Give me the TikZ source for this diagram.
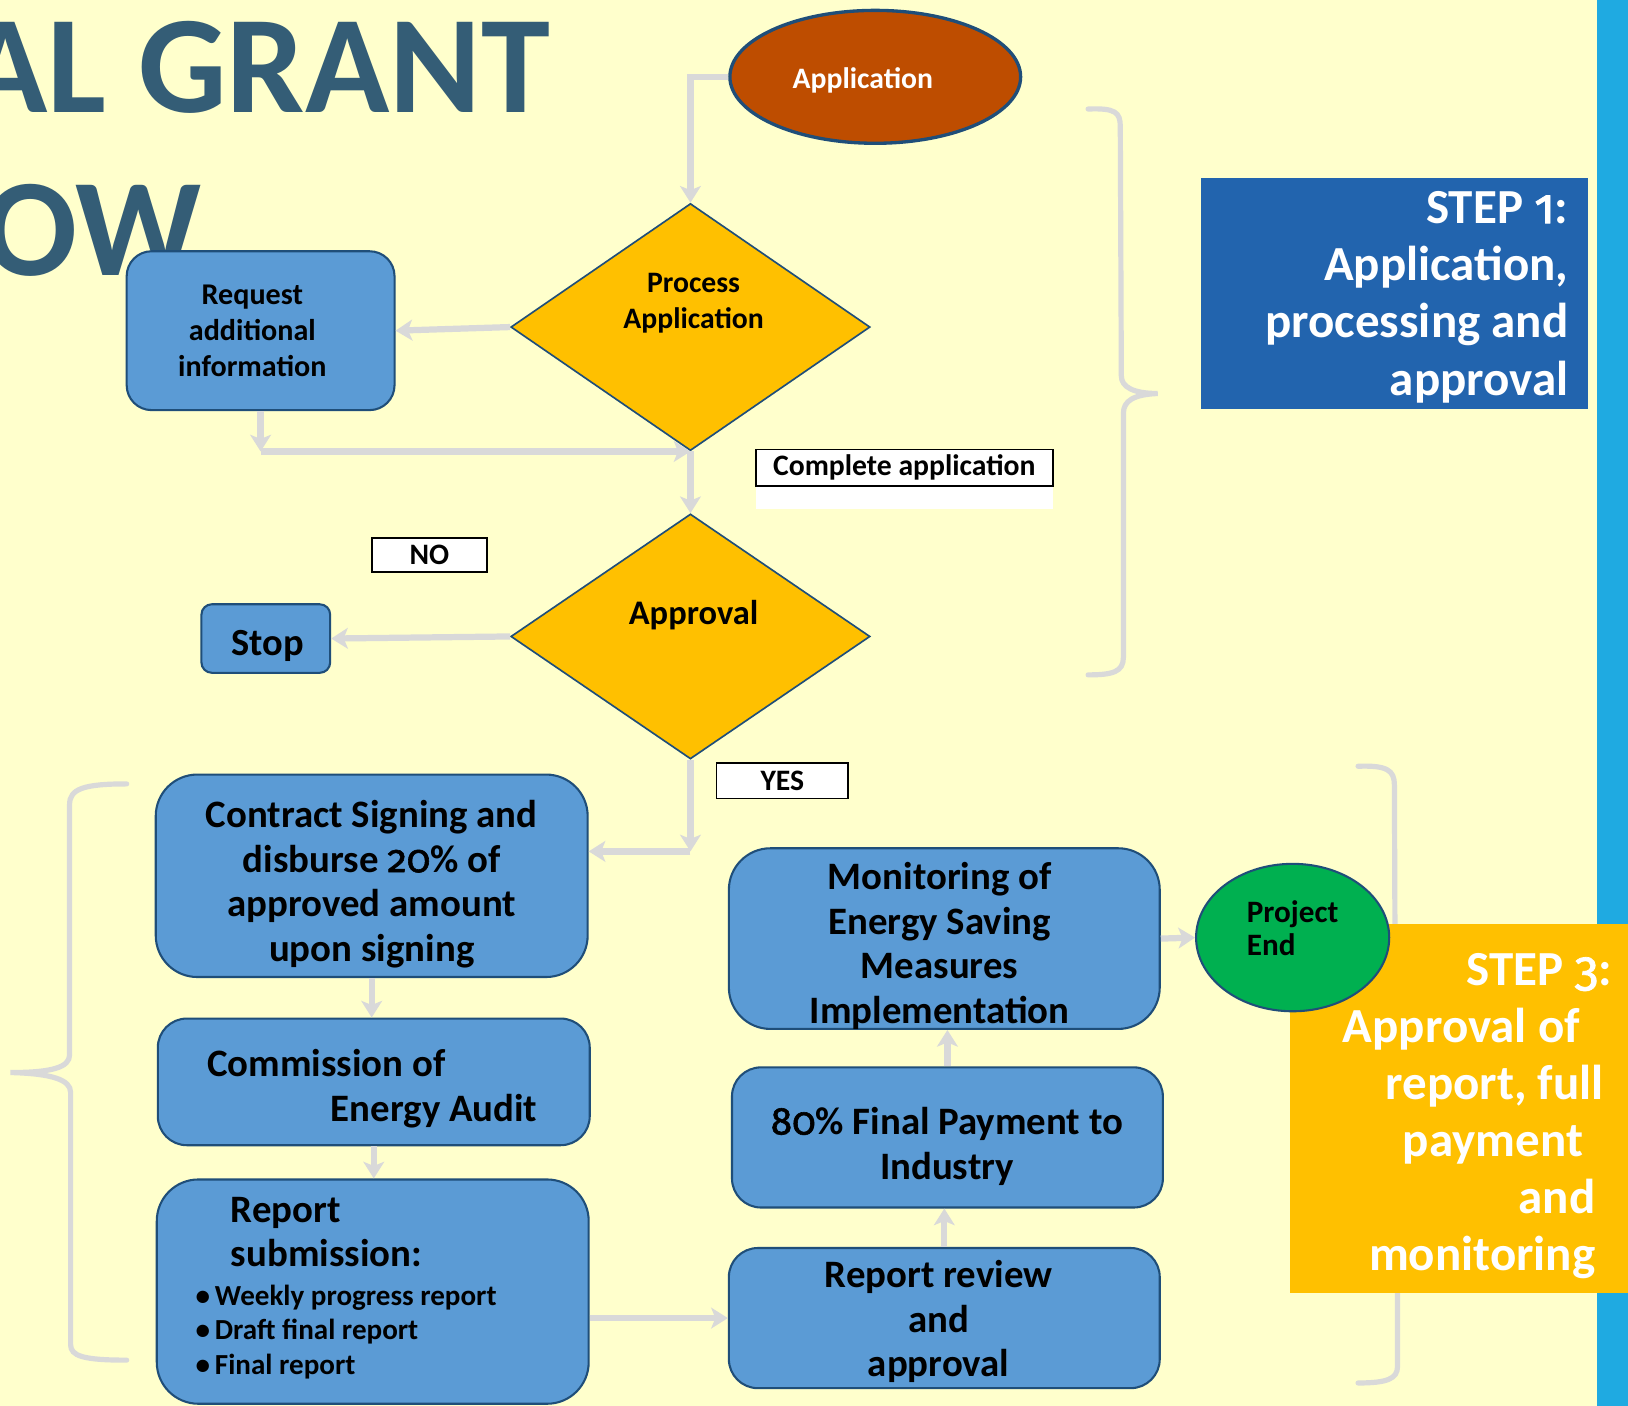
\documentclass[tikz,border=0pt]{standalone}
\usepackage{fontspec}
\setmainfont{Carlito}
\newfontfamily\osffam{Fira Sans}[Numbers=OldStyle,FakeBold=1.5]
\newcommand\osf{\osffam\mdseries}
\usetikzlibrary{shapes.geometric,arrows.meta}
\definecolor{bgy}{HTML}{FFFFCC}
\definecolor{stripe}{HTML}{1FAAE1}
\definecolor{titleblue}{HTML}{345D76}
\definecolor{appfill}{HTML}{BE4D00}
\definecolor{bdr}{HTML}{1F4E79}
\definecolor{gold}{HTML}{FFC000}
\definecolor{boxblue}{HTML}{5B9BD5}
\definecolor{pgreen}{HTML}{00B050}
\definecolor{stepblue}{HTML}{2264AE}
\definecolor{lgray}{HTML}{D9D9D9}
\newcommand\myfs[2]{\fontsize{#1}{#2}\selectfont}
\begin{document}
\begin{tikzpicture}[x=0.5pt,y=-0.5pt,font=\bfseries,
  box/.style={draw=bdr,line width=1pt,fill=boxblue,rounded corners=#1,inner sep=0pt,align=center,text=black},
  box/.default=14pt,
  diam/.style={diamond,draw=bdr,line width=0.8pt,fill=gold,inner sep=0pt},
  lbl/.style={draw=black,line width=0.8pt,fill=white,inner sep=0pt,font=\bfseries\myfs{14.3}{17}},
  conn/.style={draw=lgray,line width=3pt,-{Stealth[length=8pt,width=10pt,inset=2pt]}},
  brace/.style={draw=lgray,line width=2.5pt,line cap=round},
  small/.style={font=\bfseries\myfs{14.3}{17.2}},
  big/.style={font=\bfseries\myfs{18.7}{21.5}},
  txt/.style={inner sep=0pt,align=center},
  steptxt/.style={anchor=base east,text=white,inner sep=0pt,font=\bfseries\myfs{23.6}{27.5}}
]
\useasboundingbox (0,0) rectangle (1568,1354);
\clip (0,0) rectangle (1568,1354);
\fill[bgy] (0,0) rectangle (1568,1354);
\fill[stripe] (1538,0) rectangle (1568,1354);

% title fragments
\node[anchor=base east,inner sep=0pt,text=titleblue,font=\bfseries\myfs{67}{70}] (t1) at (530,108) {AL GRANT};
\node[anchor=base east,inner sep=0pt,text=titleblue,font=\bfseries\myfs{67}{70}] (t2) at (195,265) {OW};

% braces
\draw[brace] (1048,105) .. controls (1074,104) and (1079,108) .. (1079,122) -- (1080,362)
  .. controls (1080,373) and (1092,379) .. (1115,379)
  .. controls (1092,380) and (1082,386) .. (1082,398) -- (1082,633)
  .. controls (1082,647) and (1072,650) .. (1048,650);
\draw[brace] (1308,738) .. controls (1336,737) and (1343,742) .. (1343,756) -- (1344,1018)
  .. controls (1344,1030) and (1356,1036) .. (1378,1036)
  .. controls (1356,1037) and (1346,1043) .. (1346,1055) -- (1346,1316)
  .. controls (1346,1328) and (1336,1332) .. (1308,1332);
\draw[brace] (122,755) .. controls (80,755) and (67,760) .. (67,775) -- (67,1016)
  .. controls (67,1028) and (50,1033) .. (10,1033)
  .. controls (50,1034) and (68,1040) .. (68,1052) -- (68,1295)
  .. controls (68,1306) and (80,1310) .. (122,1310);

% step boxes
\fill[stepblue] (1157,171) rectangle (1529,394);
\node[steptxt] (s1a) at (1511,215) {STEP {\osf 1}:};
\node[steptxt] (s1b) at (1511,270) {Application,};
\node[steptxt] (s1c) at (1511,325) {processing and};
\node[steptxt] (s1d) at (1511,381) {approval};
\fill[gold] (1242,890) rectangle (1568,1245);
\node[steptxt] (s3a) at (1553,949) {STEP {\osf 3}:};
\node[steptxt] (s3b) at (1522,1004) {Approval of};
\node[steptxt] (s3c) at (1545,1059) {report, full};
\node[steptxt] (s3d) at (1525,1114) {payment};
\node[steptxt] (s3e) at (1537,1169) {and};
\node[steptxt] (s3f) at (1537,1224) {monitoring};

% main nodes
\node[ellipse,draw=bdr,line width=1.6pt,fill=appfill,minimum width=140pt,minimum height=64pt,inner sep=0pt] (app) at (843,74) {};
\node[txt,small,text=white] (appt) at (831,77) {Application};
\node[diam,minimum width=173pt,minimum height=119pt] (proc) at (665,315) {};
\node[txt,small] (proct) at (668,292) {Process\\Application};
\node[box=12pt,minimum width=129pt,minimum height=76.5pt] (req) at (251,318.5) {};
\node[txt,font=\bfseries\myfs{14.5}{17.3}] (reqt) at (243,319) {Request\\additional\\information};
\node[diam,minimum width=173pt,minimum height=118pt] (appr) at (665,613) {};
\node[txt,font=\bfseries\myfs{16.6}{19}] (apprt) at (668,592) {Approval};
\node[box=5pt,minimum width=62pt,minimum height=33pt] (stop) at (256,615) {};
\node[txt,font=\bfseries\myfs{18.5}{21}] (stopt) at (258,622) {Stop};

\fill[white] (728,433) rectangle (1014,490);
\node[lbl,minimum width=143pt,minimum height=17.5pt] (compl) at (871,450.5) {Complete application};
\node[lbl,minimum width=55.5pt,minimum height=16.5pt] (no) at (413.5,534.5) {NO};
\node[lbl,minimum width=63.5pt,minimum height=17pt] (yes) at (753.5,752) {YES};

\node[box=20pt,minimum width=208pt,minimum height=97.5pt] (contract) at (358,843.5) {};
\node[txt,big] (contractt) at (358,851.5) {Contract Signing and\\disburse {\osf 20}\% of\\approved amount\\upon signing};
\node[box=14pt,minimum width=208pt,minimum height=61pt] (comm) at (360,1042) {};
\node[anchor=base west,inner sep=0pt,big] (commA) at (199,1037) {Commission of};
\node[anchor=base east,inner sep=0pt,big] (commB) at (518,1080) {Energy Audit};
\node[box=20pt,minimum width=208pt,minimum height=108pt] (report) at (359,1244) {};
\node[anchor=base west,inner sep=0pt,big] (rep1) at (222,1177) {Report};
\node[anchor=base west,inner sep=0pt,big] (rep2) at (222,1220) {submission:};
\node[anchor=base west,inner sep=0pt,font=\bfseries\myfs{14}{17}] (rep3) at (188,1257) {•\,Weekly progress report};
\node[anchor=base west,inner sep=0pt,font=\bfseries\myfs{14}{17}] (rep4) at (188,1290) {•\,Draft final report};
\node[anchor=base west,inner sep=0pt,font=\bfseries\myfs{14}{17}] (rep5) at (188,1324) {•\,Final report};

\node[box=14pt,minimum width=207.5pt,minimum height=67.5pt] (review) at (909.5,1269.5) {};
\node[txt,big] (reviewt) at (904,1273) {Report review\\and\\approval};
\node[box=14pt,minimum width=207.5pt,minimum height=67.5pt] (pay) at (912.5,1095.5) {};
\node[txt,big] (payt) at (912,1104) {{\osf 80}\% Final Payment to\\Industry};
\node[box=20pt,minimum width=207.5pt,minimum height=87pt] (mon) at (909.5,904) {};
\node[txt,big] (mont) at (905,911) {Monitoring of\\Energy Saving\\Measures\\Implementation};
\node[ellipse,draw=bdr,line width=1pt,fill=pgreen,minimum width=93pt,minimum height=71pt,inner sep=0pt] (pend) at (1245,903) {};
\node[inner sep=0pt,align=left,font=\bfseries\myfs{15}{16}] (pendt) at (1245,894) {Project\\End};

% connectors
\draw[conn] (app.west) -| (proc.north);
\draw[conn] (proc.west) -- (req.east);
\coordinate (j1) at (req.south |- proc.south);
\draw[conn] (req.south) -- (j1);
\draw[conn] (j1) -- (proc.south);
\draw[conn] (proc.south) -- (appr.north);
\draw[conn] (appr.west) -- (stop.east);
\coordinate (j2) at (665,820);
\draw[conn] (appr.south) -- (j2);
\draw[conn] (j2) -- (contract.east |- j2);
\draw[conn] (contract.south) -- (contract.south |- comm.north);
\draw[conn] (comm.south) -- (comm.south |- report.north);
\draw[conn] (report.east |- review.west) -- (review.west);
\draw[conn] (review.north) -- (review.north |- pay.south);
\draw[conn] (pay.north) -- (pay.north |- mon.south);
\draw[conn] (mon.east) -- (pend.west);
\end{tikzpicture}
\end{document}
